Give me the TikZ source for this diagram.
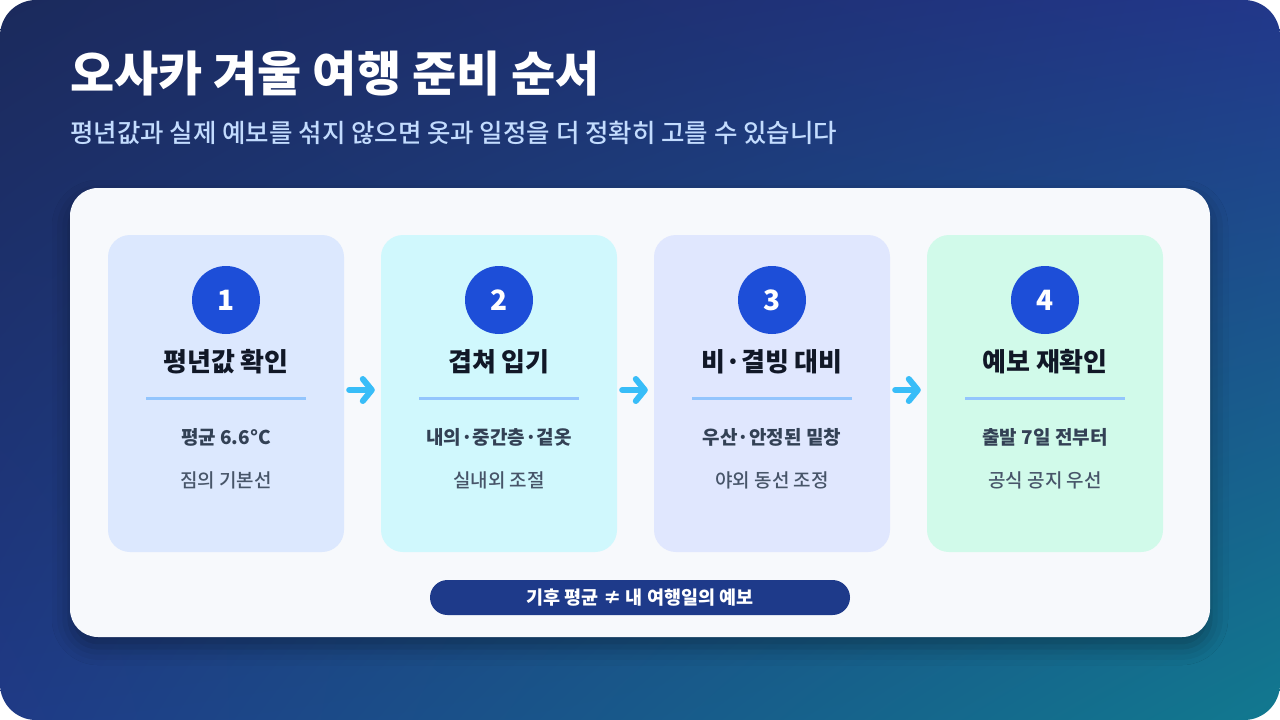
\documentclass[tikz,border=0pt]{standalone}
\usepackage{fontspec}
\setmainfont{Noto Sans CJK KR}
\newfontfamily\krmid{Noto Sans CJK KR Medium}
\usetikzlibrary{arrows.meta,shadows.blur,shadings,calc}

\definecolor{bgTL}{HTML}{1B2A5C}
\definecolor{bgTR}{HTML}{22378A}
\definecolor{bgBL}{HTML}{1F3A86}
\definecolor{bgBR}{HTML}{11798F}
\definecolor{cCard}{HTML}{F7F9FC}
\definecolor{cBoxA}{HTML}{DCE8FE}
\definecolor{cBoxB}{HTML}{D0F8FD}
\definecolor{cBoxC}{HTML}{E0E7FE}
\definecolor{cBoxD}{HTML}{D1FAEA}
\definecolor{cBadge}{HTML}{1D4ED8}
\definecolor{cRule}{HTML}{93C5FD}
\definecolor{cFlow}{HTML}{38BDF8}
\definecolor{cInk}{HTML}{111827}
\definecolor{cSlate}{HTML}{334155}
\definecolor{cGrey}{HTML}{475569}
\definecolor{cPill}{HTML}{1E3A8A}
\definecolor{cSub}{HTML}{C3DCFE}

\begin{document}
\begin{tikzpicture}[x=1pt,y=-1pt,
    stepbox/.style={minimum width=236pt,minimum height=317pt,rounded corners=22pt,inner sep=0pt},
    numdot/.style={circle,fill=cBadge,minimum size=68pt,inner sep=0pt,text=white,font=\fontsize{28}{28}\selectfont\bfseries},
    headtxt/.style={text=cInk,font=\fontsize{26}{30}\selectfont\bfseries},
    maintxt/.style={text=cSlate,font=\fontsize{19}{22}\selectfont\bfseries},
    subtxt/.style={text=cGrey,font=\fontsize{19}{22}\selectfont\krmid},
    rulebar/.style={cRule,line width=3pt},
    flowarrow/.style={cFlow,line width=6pt,line cap=round,-{Straight Barb[round,length=9pt,width=22pt]}}]
				\useasboundingbox (0,0) rectangle (1280,720);
				% background
				\shade[upper left=bgTL,upper right=bgTR,lower left=bgBL,lower right=bgBR,rounded corners=36pt] (0,0) rectangle (1280,720);
				\node[anchor=west,inner sep=0pt,text=white,font=\fontsize{48}{54}\selectfont\bfseries] (title) at (70,74) {오사카 겨울 여행 준비 순서};
				\node[anchor=west,inner sep=0pt,text=cSub,font=\fontsize{25.5}{28}\selectfont\krmid] (subtitle) at (70,133) {평년값과 실제 예보를 섞지 않으면 옷과 일정을 더 정확히 고를 수 있습니다};
				% card
				\fill[cCard,rounded corners=28pt,blur shadow={shadow xshift=0pt,shadow yshift=-10pt,shadow blur radius=18pt,shadow opacity=35}] (70,188) rectangle (1210,637);
				% steps
				\node[stepbox,fill=cBoxA] (s1) at (226,393.5) {};
				\node[stepbox,fill=cBoxB] (s2) at (499,393.5) {};
				\node[stepbox,fill=cBoxC] (s3) at (772,393.5) {};
				\node[stepbox,fill=cBoxD] (s4) at (1045,393.5) {};
				\node[numdot] (n1) at (226,300) {1};
				\node[numdot] (n2) at (499,300) {2};
				\node[numdot] (n3) at (772,300) {3};
				\node[numdot] (n4) at (1045,300) {4};
				\node[headtxt] (h1) at (226,362) {평년값 확인};
				\node[headtxt] (h2) at (499,362) {겹쳐 입기};
				\node[headtxt] (h3) at (772,362) {비·결빙 대비};
				\node[headtxt] (h4) at (1045,362) {예보 재확인};
				\draw[rulebar] (146,398) -- (306,398);
				\draw[rulebar] (419,398) -- (579,398);
				\draw[rulebar] (692,398) -- (852,398);
				\draw[rulebar] (965,398) -- (1125,398);
				\node[maintxt] (a1) at (226,437) {평균 6.6°C};
				\node[maintxt] (a2) at (499,437) {내의·중간층·겉옷};
				\node[maintxt] (a3) at (772,437) {우산·안정된 밑창};
				\node[maintxt] (a4) at (1045,437) {출발 7일 전부터};
				\node[subtxt] (b1) at (226,480) {짐의 기본선};
				\node[subtxt] (b2) at (499,480) {실내외 조절};
				\node[subtxt] (b3) at (772,480) {야외 동선 조정};
				\node[subtxt] (b4) at (1045,480) {공식 공지 우선};
				% flow
				\draw[flowarrow] ([xshift=5pt,yshift=3.5pt]s1.east) -- ([xshift=-6pt,yshift=3.5pt]s2.west);
				\draw[flowarrow] ([xshift=5pt,yshift=3.5pt]s2.east) -- ([xshift=-6pt,yshift=3.5pt]s3.west);
				\draw[flowarrow] ([xshift=5pt,yshift=3.5pt]s3.east) -- ([xshift=-6pt,yshift=3.5pt]s4.west);
				% note
				\node[fill=cPill,rounded corners=17.5pt,minimum width=420pt,minimum height=35pt,inner sep=0pt,text=white,font=\fontsize{18.5}{20}\selectfont\bfseries] (note) at (640,597.5) {기후 평균 ≠ 내 여행일의 예보};
			\end{tikzpicture}
\end{document}
